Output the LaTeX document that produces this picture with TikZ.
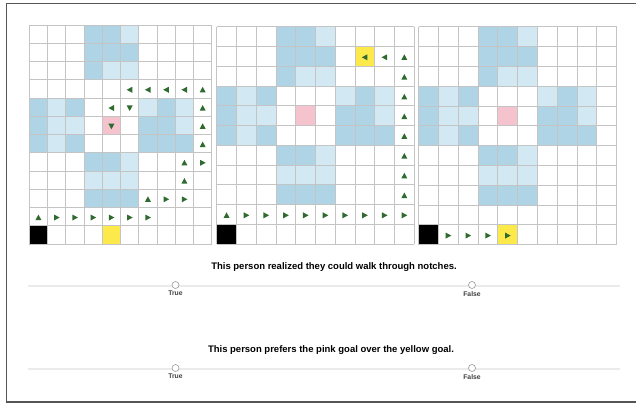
\documentclass[tikz,border=0pt]{standalone}
\usepackage{fontspec}
\setmainfont{Liberation Sans}
\definecolor{dblue}{HTML}{AED4E6}
\definecolor{lblue}{HTML}{D2E8F2}
\definecolor{pinkg}{HTML}{F4C3CD}
\definecolor{yellowg}{HTML}{FDE94A}
\definecolor{gridc}{HTML}{C4C4C4}
\definecolor{arrg}{HTML}{2F6B2F}
\definecolor{trackc}{HTML}{EBEBEB}
\definecolor{framec}{HTML}{555555}
\tikzset{
  gridline/.style={draw=gridc, line width=0.8pt},
  arrowtri/.style={fill=arrg},
  question/.style={font=\fontsize{9.5}{11}\selectfont\bfseries, inner sep=0pt},
  choice/.style={font=\fontsize{6.8}{8}\selectfont\bfseries, text=black!75, inner sep=0pt},
  radiobtn/.style={circle, draw=black!40, fill=white, line width=0.6pt, minimum size=7pt, inner sep=0pt},
  track/.style={draw=trackc, line width=2pt}
}
% cell fill: col,row,color
\newcommand{\cellfill}[3]{\fill[#3] ({(#1)*\cs},{(#2)*\cs}) rectangle ({(#1+1)*\cs},{(#2+1)*\cs});}
% arrow: col,row,angle
\newcommand{\arr}[3]{\fill[arrowtri, shift={({(#1+0.5)*\cs},{(#2+0.55)*\cs})}, rotate=#3] (3,0) -- (-2.6,3) -- (-2.6,-3) -- cycle;}
% block pattern: side rows start a, bottom rows start b
\newcommand{\blocks}[2]{%
  \cellfill{3}{0}{dblue}\cellfill{4}{0}{dblue}\cellfill{5}{0}{lblue}
  \cellfill{3}{1}{dblue}\cellfill{4}{1}{dblue}\cellfill{5}{1}{dblue}
  \cellfill{3}{2}{dblue}\cellfill{4}{2}{lblue}\cellfill{5}{2}{lblue}
  \cellfill{0}{#1}{dblue}\cellfill{1}{#1}{lblue}\cellfill{2}{#1}{dblue}
  \cellfill{0}{#1+1}{dblue}\cellfill{1}{#1+1}{lblue}\cellfill{2}{#1+1}{lblue}
  \cellfill{0}{#1+2}{dblue}\cellfill{1}{#1+2}{lblue}\cellfill{2}{#1+2}{dblue}
  \cellfill{6}{#1}{lblue}\cellfill{7}{#1}{dblue}\cellfill{8}{#1}{lblue}
  \cellfill{6}{#1+1}{dblue}\cellfill{7}{#1+1}{dblue}\cellfill{8}{#1+1}{lblue}
  \cellfill{6}{#1+2}{dblue}\cellfill{7}{#1+2}{dblue}\cellfill{8}{#1+2}{dblue}
  \cellfill{3}{#2}{dblue}\cellfill{4}{#2}{dblue}\cellfill{5}{#2}{lblue}
  \cellfill{3}{#2+1}{lblue}\cellfill{4}{#2+1}{lblue}\cellfill{5}{#2+1}{lblue}
  \cellfill{3}{#2+2}{dblue}\cellfill{4}{#2+2}{dblue}\cellfill{5}{#2+2}{dblue}
  \cellfill{4}{#1+1}{pinkg}
}
% grid lines: ncols, nrows
\newcommand{\gridlines}[2]{%
  \foreach \i in {0,...,#1} {\draw[gridline] ({\i*\cs},0) -- ({\i*\cs},{#2*\cs});}
  \foreach \j in {0,...,#2} {\draw[gridline] (0,{\j*\cs}) -- ({#1*\cs},{\j*\cs});}
}
\begin{document}
\begin{tikzpicture}[x=1pt,y=-1pt]
\useasboundingbox (0,0) rectangle (636,404);
\fill[white] (0,0) rectangle (636,404);
% frame
\draw[framec, line width=1.3pt] (636,3.5) -- (6.5,3.5) -- (6.5,402) -- (636,402);

% ---- grid 1 ----
\begin{scope}[shift={(29.3,25)}]
\def\cs{18.25}
\blocks{4}{7}
\cellfill{0}{11}{black}\cellfill{4}{11}{yellowg}
\gridlines{10}{12}
\arr{5}{3}{180}\arr{6}{3}{180}\arr{7}{3}{180}\arr{8}{3}{180}\arr{9}{3}{90}
\arr{4}{4}{180}\arr{5}{4}{270}\arr{9}{4}{90}
\arr{4}{5}{270}\arr{9}{5}{90}
\arr{9}{6}{90}
\arr{8}{7}{90}\arr{9}{7}{0}
\arr{8}{8}{90}
\arr{6}{9}{90}\arr{7}{9}{0}\arr{8}{9}{0}
\arr{0}{10}{90}
\foreach \c in {1,...,6} {\arr{\c}{10}{0}}
\end{scope}

% ---- grid 2 ----
\begin{scope}[shift={(216.7,26.7)}]
\def\cs{19.75}
\blocks{3}{6}
\cellfill{0}{10}{black}\cellfill{7}{1}{yellowg}
\gridlines{10}{11}
\arr{7}{1}{180}\arr{8}{1}{180}
\foreach \r in {1,...,8} {\arr{9}{\r}{90}}
\arr{0}{9}{90}
\foreach \c in {1,...,9} {\arr{\c}{9}{0}}
\end{scope}

% ---- grid 3 ----
\begin{scope}[shift={(418.6,26.7)}]
\def\cs{19.8}
\blocks{3}{6}
\cellfill{0}{10}{black}\cellfill{4}{10}{yellowg}
\gridlines{10}{11}
\foreach \c in {1,...,4} {\arr{\c}{10}{0}}
\end{scope}

% ---- question 1 ----
\node[question] (q1) at (334,267) {This person realized they could walk through notches.};
\coordinate (t1a) at (28,285.5);
\coordinate (t1b) at (620,285.5);
\draw[track] (t1a) -- (t1b);
\node[radiobtn] (r1t) at (175.5,285) {};
\node[radiobtn] (r1f) at (472,285) {};
\node[choice, anchor=north] (l1t) at (175.5,291) {True};
\node[choice, anchor=north] (l1f) at (472,291) {False};

% ---- question 2 ----
\node[question] (q2) at (331,350) {This person prefers the pink goal over the yellow goal.};
\coordinate (t2a) at (28,368.5);
\coordinate (t2b) at (620,368.5);
\draw[track] (t2a) -- (t2b);
\node[radiobtn] (r2t) at (175.5,368) {};
\node[radiobtn] (r2f) at (472,368) {};
\node[choice, anchor=north] (l2t) at (175.5,374) {True};
\node[choice, anchor=north] (l2f) at (472,374) {False};
\end{tikzpicture}
\end{document}
